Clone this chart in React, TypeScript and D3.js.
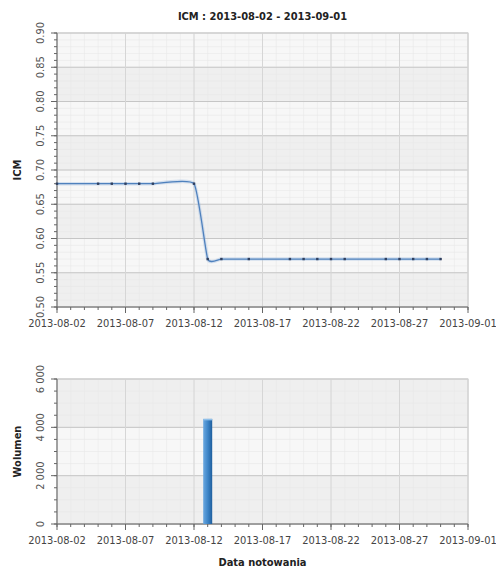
import * as d3 from 'd3';

// ICM quotes (close) and traded volume
const quoteDates = [
  '2013-08-02', '2013-08-05', '2013-08-06', '2013-08-07', '2013-08-08', '2013-08-09',
  '2013-08-12', '2013-08-13', '2013-08-14', '2013-08-16', '2013-08-19', '2013-08-20',
  '2013-08-21', '2013-08-22', '2013-08-23', '2013-08-26', '2013-08-27', '2013-08-28',
  '2013-08-29', '2013-08-30',
];
const icmValues = [
  0.68, 0.68, 0.68, 0.68, 0.68, 0.68,
  0.68, 0.57, 0.57, 0.57, 0.57, 0.57,
  0.57, 0.57, 0.57, 0.57, 0.57, 0.57,
  0.57, 0.57,
];
const volumeDates = ['2013-08-13'];
const volumeValues = [4350];

const priceTicks = [0.5, 0.55, 0.6, 0.65, 0.7, 0.75, 0.8, 0.85, 0.9];
const volumeTicks = [0, 2000, 4000, 6000];

const W = 496;
const H = 572;
const left = 57;
const right = 468;
const font = '"DejaVu Sans Condensed", "DejaVu Sans", sans-serif';

const parse = (s: string) => new Date(s + 'T00:00:00Z');
const start = parse('2013-08-02');
const end = parse('2013-09-01');

const x = d3.scaleUtc().domain([start, end]).range([left, right]);
const fmtDate = d3.utcFormat('%Y-%m-%d');
const majorDays = d3.range(0, 31, 5).map(i => d3.utcDay.offset(start, i));
const minorDays = d3.range(0, 31).map(i => d3.utcDay.offset(start, i));

const fmtVol = (v: number) => d3.format(',')(v).replace(/,/g, ' ');

interface PanelProps {
  y: d3.ScaleLinear<number, number>;
  major: number[];
  minor: number[];
  fmt: (v: number) => string;
  label: string;
}

function Panel({ y, major, minor, fmt, label }: PanelProps) {
  const [y0, y1] = y.range();
  const top = Math.min(y0, y1);
  const bottom = Math.max(y0, y1);
  const mid = (top + bottom) / 2;
  return (
    <g>
      {major.slice(0, -1).map((v, i) => (
        <rect key={'b' + i} x={left} width={right - left}
          y={y(major[i + 1])} height={y(v) - y(major[i + 1])}
          fill={i % 2 === 0 ? '#efefef' : '#f7f7f7'} />
      ))}
      {minor.map((v, i) => (
        <line key={'my' + i} x1={left} x2={right} y1={y(v)} y2={y(v)} stroke="#e8e8e8" strokeWidth={0.6} />
      ))}
      {minorDays.map((d, i) => (
        <line key={'mx' + i} x1={x(d)} x2={x(d)} y1={top} y2={bottom} stroke="#e8e8e8" strokeWidth={0.6} />
      ))}
      {major.map((v, i) => (
        <line key={'gy' + i} x1={left} x2={right} y1={y(v)} y2={y(v)} stroke="#c6c6c6" strokeWidth={1} />
      ))}
      {majorDays.map((d, i) => (
        <line key={'gx' + i} x1={x(d)} x2={x(d)} y1={top} y2={bottom} stroke="#d6d6d6" strokeWidth={1} />
      ))}
      <rect x={left} y={top} width={right - left} height={bottom - top} fill="none" stroke="#d0d0d0" />
      {/* axes */}
      <line x1={left} x2={left} y1={top} y2={bottom} stroke="#666" />
      <line x1={left} x2={right} y1={bottom} y2={bottom} stroke="#666" />
      {minor.map((v, i) => (
        <line key={'ty' + i} x1={left - 3} x2={left} y1={y(v)} y2={y(v)} stroke="#666" />
      ))}
      {major.map((v, i) => (
        <line key={'tY' + i} x1={left - 6} x2={left} y1={y(v)} y2={y(v)} stroke="#666" />
      ))}
      {minorDays.map((d, i) => (
        <line key={'tx' + i} x1={x(d)} x2={x(d)} y1={bottom} y2={bottom + 3} stroke="#666" />
      ))}
      {majorDays.map((d, i) => (
        <line key={'tX' + i} x1={x(d)} x2={x(d)} y1={bottom} y2={bottom + 6} stroke="#666" />
      ))}
      {major.map((v, i) => (
        <text key={'ly' + i} transform={`translate(${left - 13},${y(v)}) rotate(-90)`}
          textAnchor="middle" fontSize={11} fill="#555" fontFamily={font}>{fmt(v)}</text>
      ))}
      {majorDays.map((d, i) => (
        <text key={'lx' + i} x={x(d)} y={bottom + 20} textAnchor="middle" fontSize={11}
          fill="#444" fontFamily={font}>{fmtDate(d)}</text>
      ))}
      <text transform={`translate(21,${mid}) rotate(-90)`} textAnchor="middle" fontSize={11}
        fontWeight="bold" fill="#222" fontFamily={font}>{label}</text>
    </g>
  );
}

export default function App() {
  const yPrice = d3.scaleLinear().domain([0.5, 0.9]).range([307, 33]);
  const yVol = d3.scaleLinear().domain([0, 6000]).range([524, 379]);
  const priceMinor = d3.range(50, 91).map(v => v / 100);
  const volMinor = d3.range(0, 6001, 500);

  const pts = quoteDates.map((d, i) => ({ date: parse(d), v: icmValues[i] }));
  const line = d3.line<{ date: Date; v: number }>()
    .x(d => x(d.date))
    .y(d => yPrice(d.v))
    .curve(d3.curveCardinal.tension(0.55));
  const path = line(pts) || '';

  const barW = 9;

  return (
    <svg width={W} height={H} style={{ position: 'absolute', left: 0, top: 0, background: '#fff' }}>
      <defs>
        <linearGradient id="barGrad" x1="0" x2="1" y1="0" y2="0">
          <stop offset="0" stopColor="#6aa8e0" />
          <stop offset="0.5" stopColor="#3f86c8" />
          <stop offset="1" stopColor="#1f5f9e" />
        </linearGradient>
      </defs>
      <text x={(left + right) / 2} y={20} textAnchor="middle" fontSize={11} fontWeight="bold"
        fill="#222" fontFamily={font}>ICM : 2013-08-02 - 2013-09-01</text>

      <Panel y={yPrice} major={priceTicks} minor={priceMinor} fmt={d3.format('.2f')} label="ICM" />
      <path d={path} fill="none" stroke="#9dbbe0" strokeOpacity={0.4} strokeWidth={3.5} />
      <path d={path} fill="none" stroke="#4f81bd" strokeWidth={1.3} />
      {pts.map((p, i) => (
        <rect key={i} x={x(p.date) - 1.2} y={yPrice(p.v) - 1.2} width={2.4} height={2.4} fill="#2f3f5f" />
      ))}

      <Panel y={yVol} major={volumeTicks} minor={volMinor} fmt={fmtVol} label="Wolumen" />
      {volumeDates.map((d, i) => {
        const cx = x(parse(d));
        const yt = yVol(volumeValues[i]);
        return (
          <g key={i}>
            <rect x={cx - barW / 2} y={yt} width={barW} height={yVol(0) - yt} fill="url(#barGrad)" />
            <rect x={cx - barW / 2} y={yt} width={barW} height={1.5} fill="#8fc0ea" />
          </g>
        );
      })}

      <text x={(left + right) / 2} y={566} textAnchor="middle" fontSize={11} fontWeight="bold"
        fill="#222" fontFamily={font}>Data notowania</text>
    </svg>
  );
}
